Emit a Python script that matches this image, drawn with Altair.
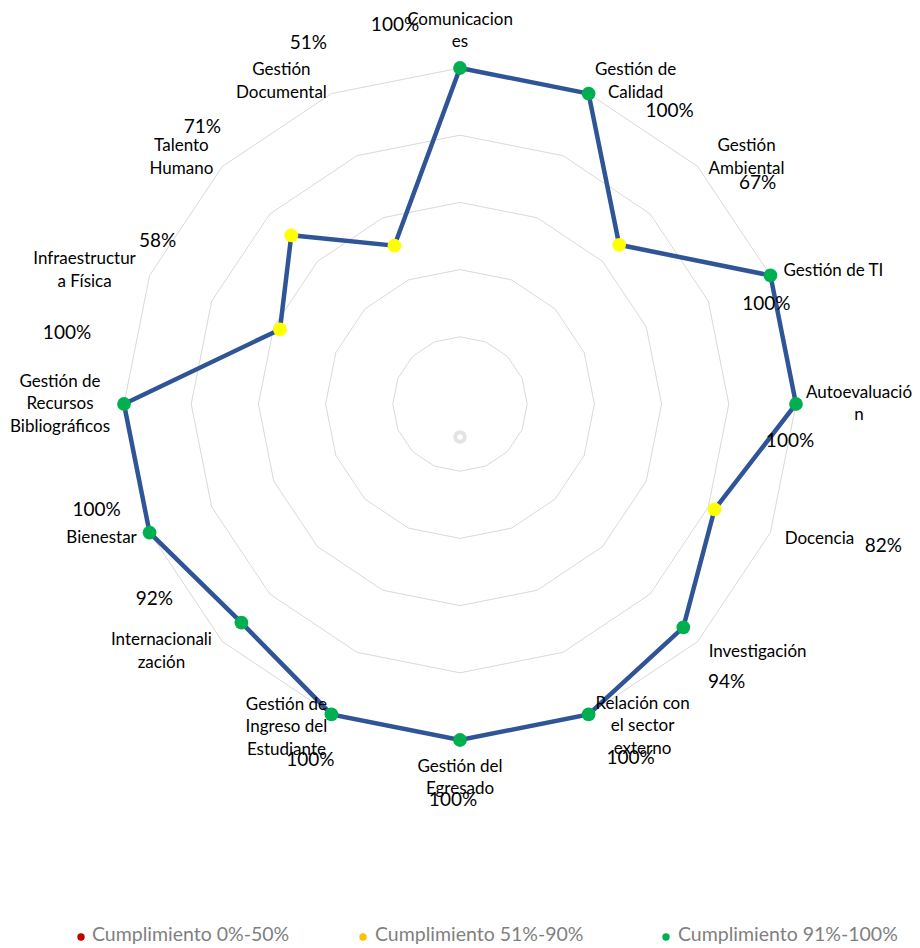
import altair as alt
import numpy as np
import pandas as pd

# ---------------- data ----------------
categories = [
    "Comunicaciones", "Gestión de Calidad", "Gestión Ambiental", "Gestión de TI",
    "Autoevaluación", "Docencia", "Investigación", "Relación con el sector externo",
    "Gestión del Egresado", "Gestión de Ingreso del Estudiante", "Internacionalización",
    "Bienestar", "Gestión de Recursos Bibliográficos", "Infraestructura Física",
    "Talento Humano", "Gestión Documental",
]
label_lines = [
    ["Comunicacion", "es"], ["Gestión de", "Calidad"], ["Gestión", "Ambiental"],
    ["Gestión de TI"], ["Autoevaluació", "n"], ["Docencia"], ["Investigación"],
    ["Relación con", "el sector", "externo"], ["Gestión del", "Egresado"],
    ["Gestión de", "Ingreso del", "Estudiante"], ["Internacionali", "zación"],
    ["Bienestar"], ["Gestión de", "Recursos", "Bibliográficos"],
    ["Infraestructur", "a Física"], ["Talento", "Humano"], ["Gestión", "Documental"],
]
values = [100, 100, 67, 100, 100, 82, 94, 100, 100, 100, 92, 100, 100, 58, 71, 51]
ring_levels = [20, 40, 60, 80, 100]
legend_labels = ["Cumplimiento 0%-50%", "Cumplimiento 51%-90%", "Cumplimiento 91%-100%"]
legend_colors = ["#C00000", "#FFC000", "#00B050"]
point_colors = ["#C00000", "#FFFF00", "#00B050"]

# ---------------- layout (pixel nudges of label block centres from the axis ends) ----------------
cat_label_dx = [0, 47, 49, 63, 63, 49, 60, 54, 0, -45, -61, -48, -64, -65, -41, -50]
cat_label_dy = [-37, -12, -9, -4, 0, 6, 10, 12, 38, 13, 10, 5, 0, -5, -9, -12]
pct_label_dx = [-65, 81, 60, -4, -6, 113, 29, 42, -7, -21, -68, -53, -57, 8, -20, -23]
pct_label_dy = [-43, 17, 17, 29, 37, 13, 40, 44, 60, 46, -43, -23, -71, -34, -39, -51]
legend_dot_x = [73, 355, 658]
legend_text_x = [84, 367, 670]
legend_y = 927
LINE_H = 22.5

R_PX = 336.0
W, H = 904, 936
CX, CY = 452, 396
xs = alt.Scale(domain=[-CX / R_PX, (W - CX) / R_PX], nice=False, zero=False)
ys = alt.Scale(domain=[-(H - CY) / R_PX, CY / R_PX], nice=False, zero=False)

n = len(categories)
ang = np.deg2rad(np.arange(n) * 360.0 / n)

FONT = "Lato"

# grid rings
grid_rows = []
for lv in ring_levels:
    for k in range(n + 1):
        a = ang[k % n]
        grid_rows.append({"ring": lv, "ord": k,
                          "x": lv / 100 * np.sin(a), "y": lv / 100 * np.cos(a)})
grid_df = pd.DataFrame(grid_rows)

# data polygon
def band(v):
    if v <= 50:
        return legend_labels[0]
    if v <= 90:
        return legend_labels[1]
    return legend_labels[2]

pts = pd.DataFrame({
    "cat": categories,
    "value": values,
    "ord": np.arange(n),
    "x": np.array(values) / 100 * np.sin(ang),
    "y": np.array(values) / 100 * np.cos(ang),
    "band": [band(v) for v in values],
})
line_df = pd.concat([pts, pts.iloc[[0]].assign(ord=n)], ignore_index=True)

# labels (Vega anchors the first line of a multi-line text, so shift up by half the block)
first_dy = np.array([dy - (len(l) - 1) * LINE_H / 2 for dy, l in zip(cat_label_dy, label_lines)])
lab_df = pd.DataFrame({
    "text": ["\n".join(l) for l in label_lines],
    "x": np.sin(ang) + np.array(cat_label_dx) / R_PX,
    "y": np.cos(ang) - first_dy / R_PX,
})
pct_df = pd.DataFrame({
    "text": [f"{v}%" for v in values],
    "x": np.sin(ang) + np.array(pct_label_dx) / R_PX,
    "y": np.cos(ang) - np.array(pct_label_dy) / R_PX,
})

X = lambda: alt.X("x:Q", scale=xs, axis=None)
Y = lambda: alt.Y("y:Q", scale=ys, axis=None)

grid = alt.Chart(grid_df).mark_line(color="#D9D9D9", strokeWidth=1).encode(
    x=X(), y=Y(), detail="ring:N", order="ord:Q")

blur = alt.Chart(pd.DataFrame({"x": [0.0], "y": [-0.098]})).mark_point(
    shape="circle", filled=False, color="#C8C8C8", strokeWidth=4, size=90, opacity=0.5
).encode(x=X(), y=Y())

poly = alt.Chart(line_df).mark_line(color="#2F5597", strokeWidth=4.5).encode(
    x=X(), y=Y(), order="ord:Q")

dots = alt.Chart(pts).mark_circle(size=190, opacity=1).encode(
    x=X(), y=Y(),
    color=alt.Color("band:N", scale=alt.Scale(domain=legend_labels, range=point_colors), legend=None))

cat_text = alt.Chart(lab_df).mark_text(
    font=FONT, fontSize=17, color="#000000", lineBreak="\n", lineHeight=LINE_H,
    align="center", baseline="middle").encode(x=X(), y=Y(), text="text:N")

pct_text = alt.Chart(pct_df).mark_text(
    font=FONT, fontSize=19, color="#000000", align="center", baseline="middle"
).encode(x=X(), y=Y(), text="text:N")

legend_layers = []
for i in range(3):
    d = pd.DataFrame({"label": [legend_labels[i]]})
    legend_layers.append(alt.Chart(d).mark_circle(size=55, color=legend_colors[i], opacity=1).encode(
        x=alt.value(legend_dot_x[i]), y=alt.value(legend_y + 2)))
    legend_layers.append(alt.Chart(d).mark_text(
        font=FONT, fontSize=19.5, color="#7F7F7F", align="left", baseline="middle").encode(
        x=alt.value(legend_text_x[i]), y=alt.value(legend_y), text="label:N"))

chart = alt.layer(grid, blur, poly, dots, cat_text, pct_text, *legend_layers).properties(
    width=W, height=H, autosize="none", padding=0
).configure_view(stroke=None)

chart.save("out.html", embed_options={"renderer": "svg", "actions": False})
